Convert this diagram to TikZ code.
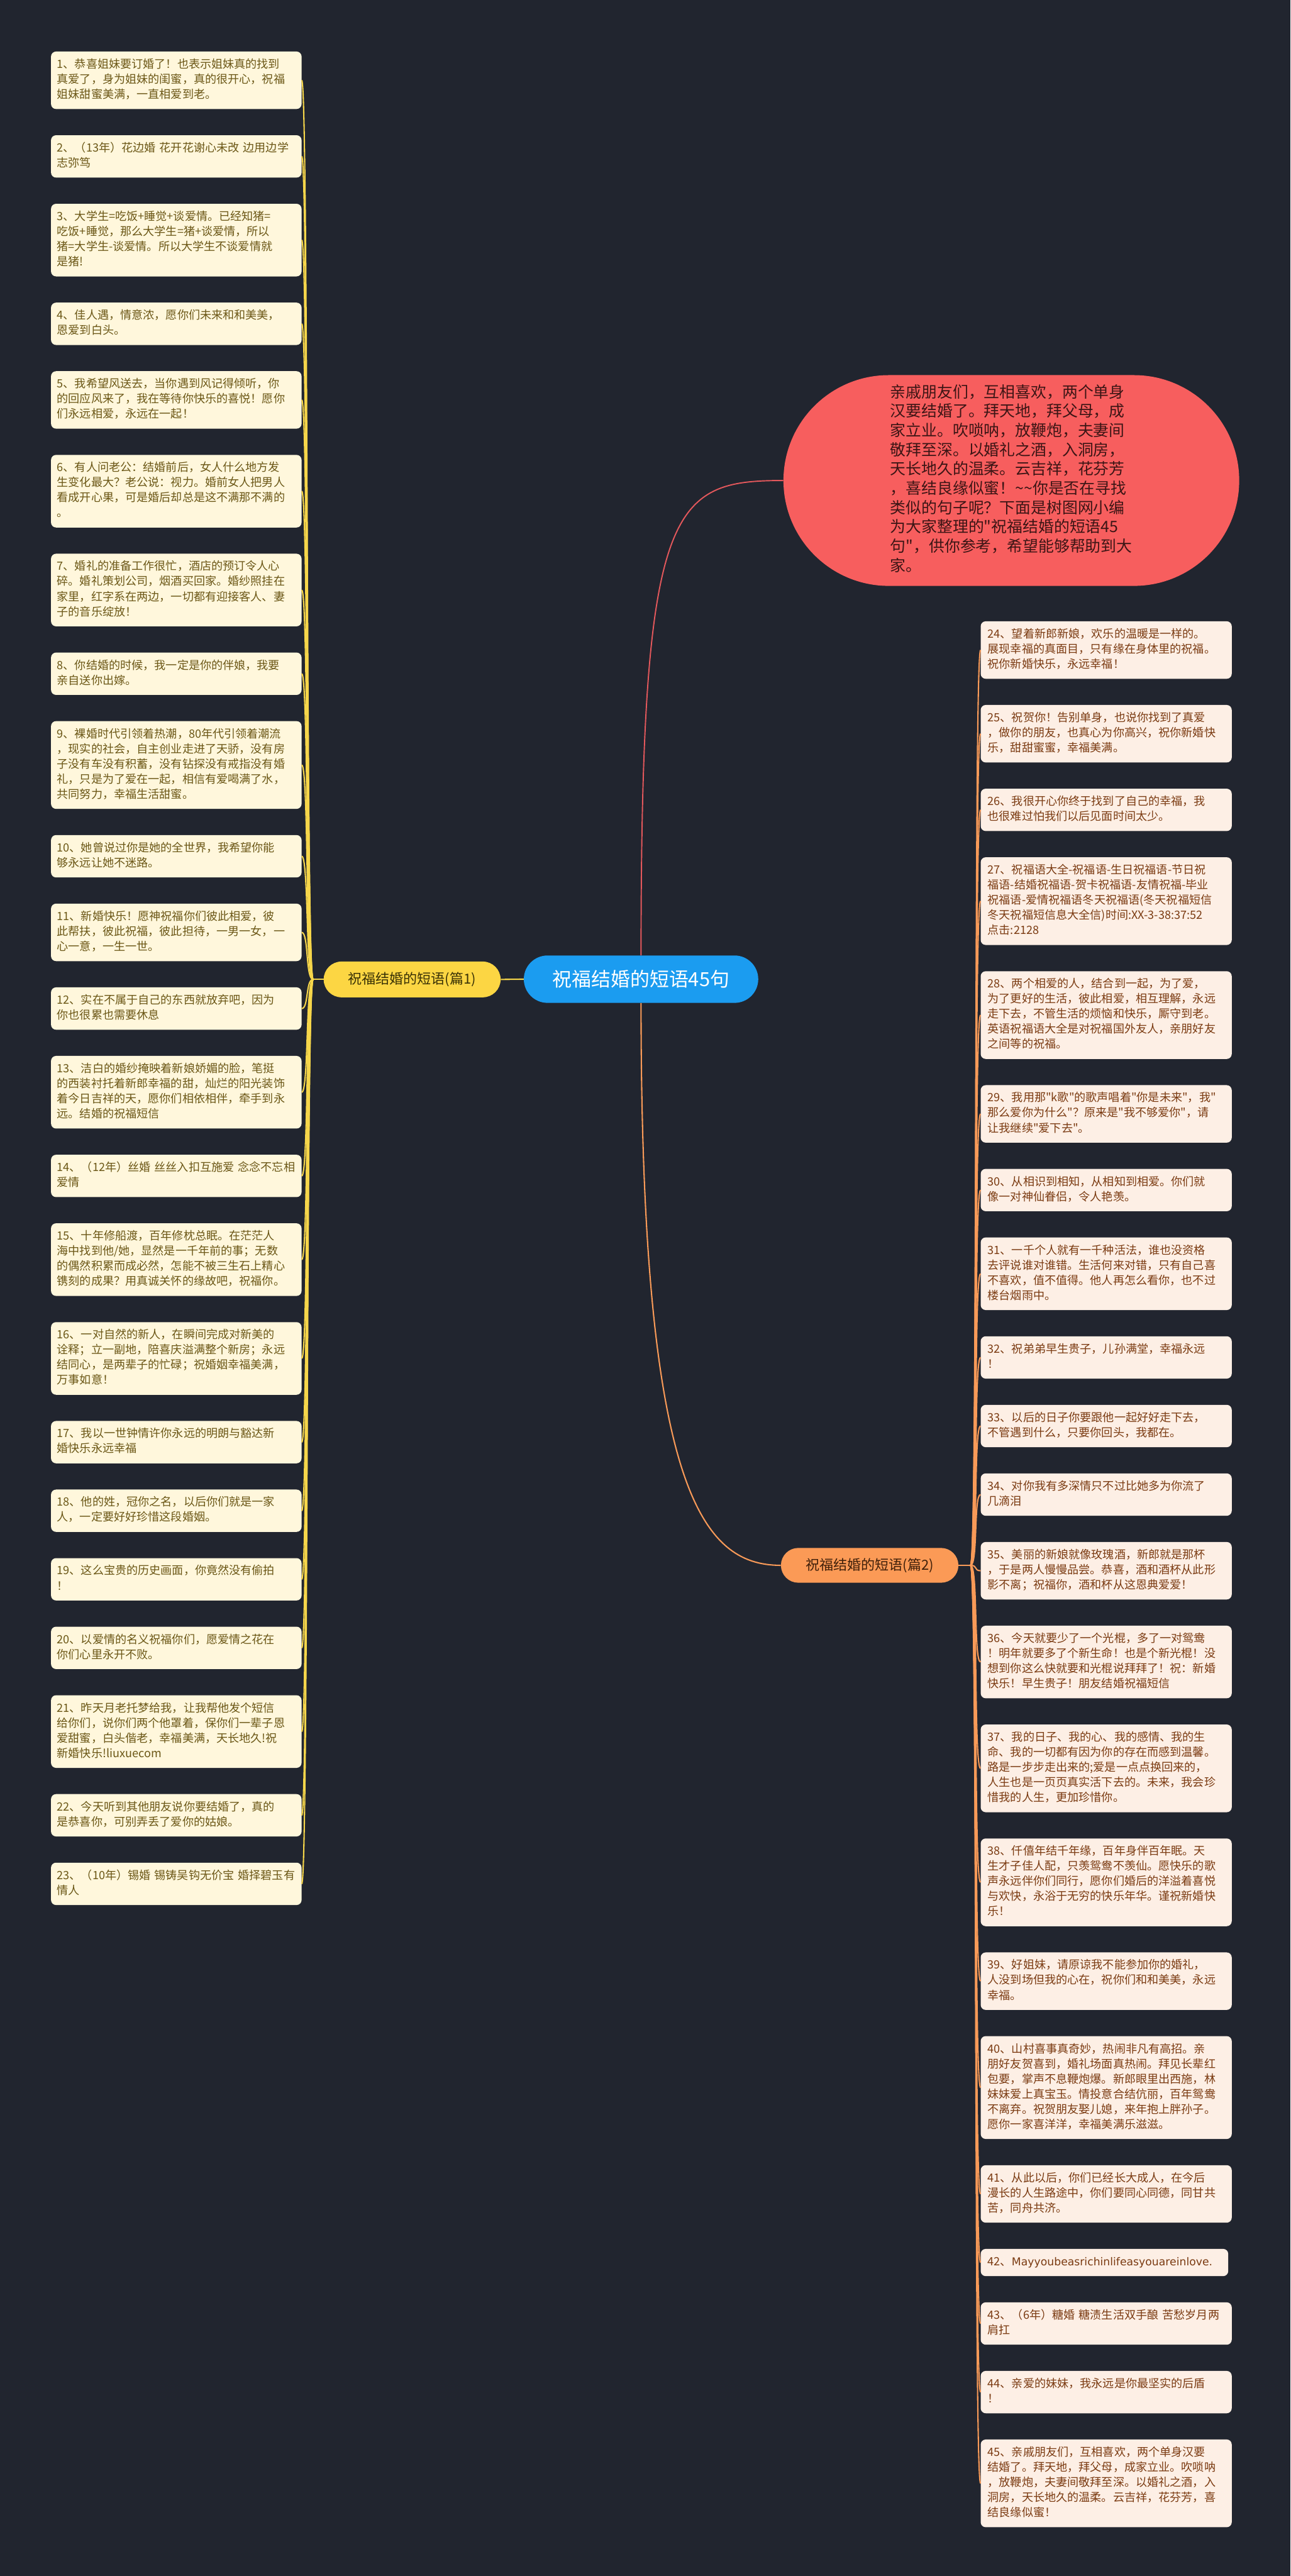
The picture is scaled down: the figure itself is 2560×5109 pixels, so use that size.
\documentclass[tikz,border=0pt]{standalone}
\usepackage{fontspec}
\setmainfont{Noto Sans CJK SC}[Ligatures=TeXOff]
\newfontfamily\latinwide{DejaVu Sans}
\usetikzlibrary{positioning}
\definecolor{bg}{HTML}{21252F}
\definecolor{lfill}{HTML}{FFF7DC}
\definecolor{ltext}{HTML}{6B5716}
\definecolor{rfill}{HTML}{FDEFE5}
\definecolor{rtext}{HTML}{7B3B12}
\definecolor{ylinec}{HTML}{F6D64A}
\definecolor{olinec}{HTML}{F89A58}
\definecolor{redline}{HTML}{E4585C}
\definecolor{rootc}{HTML}{1B9CF0}
\definecolor{bonec}{HTML}{FCD643}
\definecolor{bonet}{HTML}{3A3206}
\definecolor{btwoc}{HTML}{FB9A56}
\definecolor{btwot}{HTML}{40200A}
\definecolor{bubblec}{HTML}{F75E5E}
\definecolor{bubblet}{HTML}{3C1515}
\begin{document}
\begin{tikzpicture}[x=1pt,y=-1pt,
  leafL/.style={fill=lfill,text=ltext,rounded corners=10pt,text width=473pt,align=left,
    inner xsep=12pt,inner ysep=12pt,font=\fontsize{22.6}{30}\selectfont,
    execute at begin node=\strut,execute at end node=\strut},
  leafR/.style={leafL,fill=rfill,text=rtext,text width=470pt,inner xsep=14pt},
  nextto/.style={below=51.6pt of #1.south west,anchor=north west},
  ylink/.style={draw=ylinec,line width=2.6pt},
  olink/.style={draw=olinec,line width=2.6pt},
  pill/.style={inner sep=0pt,rounded corners=#1},
]
\fill[bg] (0,0) rectangle (2560,5109);
\useasboundingbox (0,0) rectangle (2560,5109);

% intro bubble
\node[fill=bubblec,rounded corners=209pt,minimum width=904pt,minimum height=418pt,inner sep=0pt,
  text width=480pt,align=left,text=bubblet,font=\fontsize{31}{38.3}\selectfont,
  execute at begin node=\strut,execute at end node=\strut] (intro) at (2006,953)
{亲戚朋友们，互相喜欢，两个单身\\汉要结婚了。拜天地，拜父母，成\\家立业。吹唢呐，放鞭炮，夫妻间\\敬拜至深。以婚礼之酒，入洞房，\\天长地久的温柔。云吉祥，花芬芳\\，喜结良缘似蜜！\textasciitilde\textasciitilde 你是否在寻找\\类似的句子呢？下面是树图网小编\\为大家整理的"祝福结婚的短语45\\句"，供你参考，希望能够帮助到大\\家。};

% root and branches
\node[pill=47pt,fill=rootc,text=white,minimum width=465pt,minimum height=94pt,
  font=\fontsize{38.5}{42}\selectfont] (root) at (1271.5,1942) {祝福结婚的短语45句};
\node[pill=35.5pt,fill=bonec,text=bonet,minimum width=351pt,minimum height=71pt,
  font=\fontsize{27.5}{30}\selectfont] (b1) at (817.5,1942.5) {祝福结婚的短语(篇1)};
\node[pill=34.5pt,fill=btwoc,text=btwot,minimum width=352pt,minimum height=69pt,
  font=\fontsize{27.5}{30}\selectfont] (b2) at (1725,3104.5) {祝福结婚的短语(篇2)};

\coordinate (p1) at (621,1942.5);
\coordinate (p2) at (1925,3104.5);

% left leaves
\node[leafL,anchor=north west] (l1) at (101,102) {1、恭喜姐妹要订婚了！也表示姐妹真的找到\\真爱了，身为姐妹的闺蜜，真的很开心，祝福\\姐妹甜蜜美满，一直相爱到老。};
\node[leafL,nextto=l1] (l2) {2、（13年）花边婚~花开花谢心未改~边用边学\\志弥笃};
\node[leafL,nextto=l2] (l3) {3、大学生=吃饭+睡觉+谈爱情。已经知猪=\\吃饭+睡觉，那么大学生=猪+谈爱情，所以\\猪=大学生-谈爱情。所以大学生不谈爱情就\\是猪!};
\node[leafL,nextto=l3] (l4) {4、佳人遇，情意浓，愿你们未来和和美美，\\恩爱到白头。};
\node[leafL,nextto=l4] (l5) {5、我希望风送去，当你遇到风记得倾听，你\\的回应风来了，我在等待你快乐的喜悦！愿你\\们永远相爱，永远在一起！};
\node[leafL,nextto=l5] (l6) {6、有人问老公：结婚前后，女人什么地方发\\生变化最大？老公说：视力。婚前女人把男人\\看成开心果，可是婚后却总是这不满那不满的\\。};
\node[leafL,nextto=l6] (l7) {7、婚礼的准备工作很忙，酒店的预订令人心\\碎。婚礼策划公司，烟酒买回家。婚纱照挂在\\家里，红字系在两边，一切都有迎接客人、妻\\子的音乐绽放！};
\node[leafL,nextto=l7] (l8) {8、你结婚的时候，我一定是你的伴娘，我要\\亲自送你出嫁。};
\node[leafL,nextto=l8] (l9) {9、裸婚时代引领着热潮，80年代引领着潮流\\，现实的社会，自主创业走进了天骄，没有房\\子没有车没有积蓄，没有钻探没有戒指没有婚\\礼，只是为了爱在一起，相信有爱喝满了水，\\共同努力，幸福生活甜蜜。};
\node[leafL,nextto=l9] (l10) {10、她曾说过你是她的全世界，我希望你能\\够永远让她不迷路。};
\node[leafL,nextto=l10] (l11) {11、新婚快乐！愿神祝福你们彼此相爱，彼\\此帮扶，彼此祝福，彼此担待，一男一女，一\\心一意，一生一世。};
\node[leafL,nextto=l11] (l12) {12、实在不属于自己的东西就放弃吧，因为\\你也很累也需要休息};
\node[leafL,nextto=l12] (l13) {13、洁白的婚纱掩映着新娘娇媚的脸，笔挺\\的西装衬托着新郎幸福的甜，灿烂的阳光装饰\\着今日吉祥的天，愿你们相依相伴，牵手到永\\远。结婚的祝福短信};
\node[leafL,nextto=l13] (l14) {14、（12年）丝婚~丝丝入扣互施爱~念念不忘相\\爱情};
\node[leafL,nextto=l14] (l15) {15、十年修船渡，百年修枕总眠。在茫茫人\\海中找到他/她，显然是一千年前的事；无数\\的偶然积累而成必然，怎能不被三生石上精心\\镌刻的成果？用真诚关怀的缘故吧，祝福你。};
\node[leafL,nextto=l15] (l16) {16、一对自然的新人，在瞬间完成对新美的\\诠释；立一副地，陪喜庆溢满整个新房；永远\\结同心，是两辈子的忙碌；祝婚姻幸福美满，\\万事如意！};
\node[leafL,nextto=l16] (l17) {17、我以一世钟情许你永远的明朗与豁达新\\婚快乐永远幸福};
\node[leafL,nextto=l17] (l18) {18、他的姓，冠你之名，以后你们就是一家\\人，一定要好好珍惜这段婚姻。};
\node[leafL,nextto=l18] (l19) {19、这么宝贵的历史画面，你竟然没有偷拍\\！};
\node[leafL,nextto=l19] (l20) {20、以爱情的名义祝福你们，愿爱情之花在\\你们心里永开不败。};
\node[leafL,nextto=l20] (l21) {21、昨天月老托梦给我，让我帮他发个短信\\给你们，说你们两个他罩着，保你们一辈子恩\\爱甜蜜，白头偕老，幸福美满，天长地久!祝\\新婚快乐!liuxuecom};
\node[leafL,nextto=l21] (l22) {22、今天听到其他朋友说你要结婚了，真的\\是恭喜你，可别弄丢了爱你的姑娘。};
\node[leafL,nextto=l22] (l23) {23、（10年）锡婚~锡铸吴钩无价宝~婚择碧玉有\\情人};

% right leaves
\node[leafR,anchor=north west] (r24) at (1945,1232) {24、望着新郎新娘，欢乐的温暖是一样的。\\展现幸福的真面目，只有缘在身体里的祝福。\\祝你新婚快乐，永远幸福！};
\node[leafR,nextto=r24] (r25) {25、祝贺你！告别单身，也说你找到了真爱\\，做你的朋友，也真心为你高兴，祝你新婚快\\乐，甜甜蜜蜜，幸福美满。};
\node[leafR,nextto=r25] (r26) {26、我很开心你终于找到了自己的幸福，我\\也很难过怕我们以后见面时间太少。};
\node[leafR,nextto=r26] (r27) {27、祝福语大全-祝福语-生日祝福语-节日祝\\福语-结婚祝福语-贺卡祝福语-友情祝福-毕业\\祝福语-爱情祝福语冬天祝福语(冬天祝福短信\\冬天祝福短信息大全信)时间:XX-3-38:37:52\\点击:2128};
\node[leafR,nextto=r27] (r28) {28、两个相爱的人，结合到一起，为了爱，\\为了更好的生活，彼此相爱，相互理解，永远\\走下去，不管生活的烦恼和快乐，厮守到老。\\英语祝福语大全是对祝福国外友人，亲朋好友\\之间等的祝福。};
\node[leafR,nextto=r28] (r29) {29、我用那"k歌"的歌声唱着"你是未来"，我"\\那么爱你为什么"？原来是"我不够爱你"，请\\让我继续"爱下去"。};
\node[leafR,nextto=r29] (r30) {30、从相识到相知，从相知到相爱。你们就\\像一对神仙眷侣，令人艳羡。};
\node[leafR,nextto=r30] (r31) {31、一千个人就有一千种活法，谁也没资格\\去评说谁对谁错。生活何来对错，只有自己喜\\不喜欢，值不值得。他人再怎么看你，也不过\\楼台烟雨中。};
\node[leafR,nextto=r31] (r32) {32、祝弟弟早生贵子，儿孙满堂，幸福永远\\！};
\node[leafR,nextto=r32] (r33) {33、以后的日子你要跟他一起好好走下去，\\不管遇到什么，只要你回头，我都在。};
\node[leafR,nextto=r33] (r34) {34、对你我有多深情只不过比她多为你流了\\几滴泪};
\node[leafR,nextto=r34] (r35) {35、美丽的新娘就像玫瑰酒，新郎就是那杯\\，于是两人慢慢品尝。恭喜，酒和酒杯从此形\\影不离；祝福你，酒和杯从这恩典爱爱！};
\node[leafR,nextto=r35] (r36) {36、今天就要少了一个光棍，多了一对鸳鸯\\！明年就要多了个新生命！也是个新光棍！没\\想到你这么快就要和光棍说拜拜了！祝：新婚\\快乐！早生贵子！朋友结婚祝福短信};
\node[leafR,nextto=r36] (r37) {37、我的日子、我的心、我的感情、我的生\\命、我的一切都有因为你的存在而感到温馨。\\路是一步步走出来的;爱是一点点换回来的，\\人生也是一页页真实活下去的。未来，我会珍\\惜我的人生，更加珍惜你。};
\node[leafR,nextto=r37] (r38) {38、仟僖年结千年缘，百年身伴百年眠。天\\生才子佳人配，只羡鸳鸯不羡仙。愿快乐的歌\\声永远伴你们同行，愿你们婚后的洋溢着喜悦\\与欢快，永浴于无穷的快乐年华。谨祝新婚快\\乐！};
\node[leafR,nextto=r38] (r39) {39、好姐妹，请原谅我不能参加你的婚礼，\\人没到场但我的心在，祝你们和和美美，永远\\幸福。};
\node[leafR,nextto=r39] (r40) {40、山村喜事真奇妙，热闹非凡有高招。亲\\朋好友贺喜到，婚礼场面真热闹。拜见长辈红\\包要，掌声不息鞭炮爆。新郎眼里出西施，林\\妹妹爱上真宝玉。情投意合结伉丽，百年鸳鸯\\不离弃。祝贺朋友娶儿媳，来年抱上胖孙子。\\愿你一家喜洋洋，幸福美满乐滋滋。};
\node[leafR,nextto=r40] (r41) {41、从此以后，你们已经长大成人，在今后\\漫长的人生路途中，你们要同心同德，同甘共\\苦，同舟共济。};
\node[leafR,nextto=r41,text width=463pt] (r42) {42、{\latinwide\fontsize{21.5}{30}\selectfont Mayyoubeasrichinlifeasyouareinlove.}};
\node[leafR,nextto=r42] (r43) {43、（6年）糖婚~糖渍生活双手酿~苦愁岁月两\\肩扛};
\node[leafR,nextto=r43] (r44) {44、亲爱的妹妹，我永远是你最坚实的后盾\\！};
\node[leafR,nextto=r44] (r45) {45、亲戚朋友们，互相喜欢，两个单身汉要\\结婚了。拜天地，拜父母，成家立业。吹唢呐\\，放鞭炮，夫妻间敬拜至深。以婚礼之酒，入\\洞房，天长地久的温柔。云吉祥，花芬芳，喜\\结良缘似蜜！};

% connectors
\draw[draw=redline,line width=2.4pt] (root.north) .. controls +(0,-895) and +(-224,0) .. (intro.west);
\draw[olink] (root.south) .. controls +(0,958) and +(-159,0) .. (b2.west);
\draw[ylink] (root.west) -- (b1.east);
\draw[ylink] (b1.west) -- (p1);
\draw[olink] (b2.east) -- (p2);
\foreach \i in {1,...,23}
  \draw[ylink] (p1) .. controls +(-15,0) and +(14,0) .. (l\i.east);
\foreach \i in {24,...,45}
  \draw[olink] (p2) .. controls +(15,0) and +(-14,0) .. (r\i.west);
\end{tikzpicture}
\end{document}
